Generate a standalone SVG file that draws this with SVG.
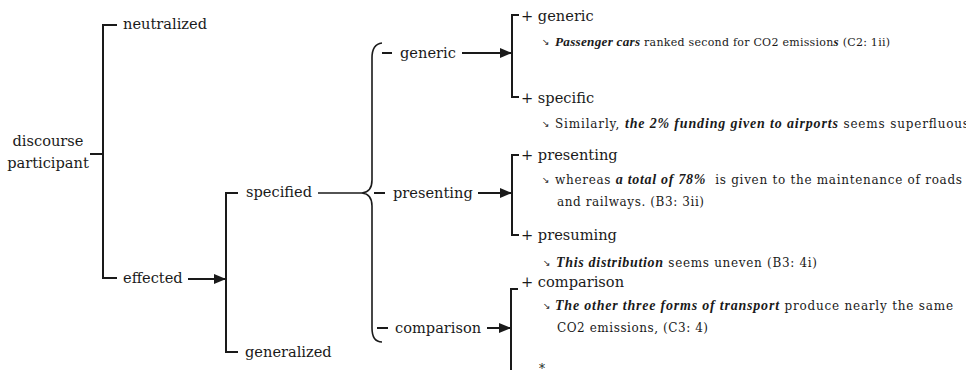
<svg xmlns="http://www.w3.org/2000/svg" width="966" height="370" viewBox="0 0 966 370">
<style>
.lbl{font-family:"DejaVu Serif","Liberation Serif",serif;font-size:14.6px;fill:#1a1a1a}
.ex{font-family:"DejaVu Serif","Liberation Serif",serif;font-size:12px;fill:#1a1a1a}
.bi{font-family:"Liberation Serif",serif;font-size:14px;font-weight:bold;font-style:italic}
.sa{font-family:"DejaVu Sans",sans-serif;font-size:9px;fill:#1a1a1a}
.ln{stroke:#1a1a1a;stroke-width:2;fill:none}
.thin{stroke:#1a1a1a;stroke-width:1.6;fill:none}
</style>
<defs>
<marker id="ah" viewBox="0 0 12 10" refX="12" refY="5" markerWidth="12" markerHeight="10" markerUnits="userSpaceOnUse" orient="auto">
<path d="M0,0 L12,5 L0,10 z" fill="#1a1a1a"/>
</marker>
</defs>
<rect width="966" height="370" fill="#fff"/>

<g id="connectors">
<path class="ln" d="M90,154 H103 M117,25 H103 V278 H117"/>
<line class="ln" x1="188" y1="279" x2="226" y2="279" marker-end="url(#ah)"/>
<path class="ln" d="M238,193 H226 V352 H238"/>
<path class="thin" d="M318,193 H362"/>
<path class="thin" d="M382,43 Q372,44 372,58 L372,180 Q372,192 362,193 Q372,194 372,206 L372,328 Q372,342 382,342"/>
<path class="ln" d="M382,53 H392 M374,193 H385 M377,328 H388"/>
<line class="ln" x1="462" y1="53" x2="512" y2="53" marker-end="url(#ah)"/>
<line class="ln" x1="478" y1="193" x2="512" y2="193" marker-end="url(#ah)"/>
<line class="ln" x1="487" y1="328" x2="511" y2="328" marker-end="url(#ah)"/>
<path class="ln" d="M519,15 H512 V97 H519"/>
<path class="ln" d="M519,155 H512 V235 H519"/>
<path class="ln" d="M518,289 H511 V372"/>
</g>

<g id="n-discourse-participant">
<text class="lbl" x="48" y="146" text-anchor="middle">discourse</text>
<text class="lbl" x="48" y="168" text-anchor="middle">participant</text>
</g>
<g id="n-neutralized"><text class="lbl" x="123" y="29">neutralized</text></g>
<g id="n-effected"><text class="lbl" x="123" y="283">effected</text></g>
<g id="n-specified"><text class="lbl" x="246" y="197">specified</text></g>
<g id="n-generalized"><text class="lbl" x="245" y="357">generalized</text></g>
<g id="n-generic"><text class="lbl" x="400" y="58">generic</text></g>
<g id="n-presenting"><text class="lbl" x="393" y="198">presenting</text></g>
<g id="n-comparison"><text class="lbl" x="395" y="333">comparison</text></g>

<g id="n-plus-generic">
<text class="lbl" x="521" y="21">+ generic</text>
<text class="sa" x="542" y="45">↘</text>
<text class="ex" x="555" y="46" textLength="335" style="font-size:11px"><tspan class="bi" style="font-size:13.2px">Passenger cars</tspan> ranked second for CO2 emission<tspan class="bi" style="font-size:13.2px">s</tspan> (C2: 1ii)</text>
</g>
<g id="n-plus-specific">
<text class="lbl" x="521" y="103">+ specific</text>
<text class="sa" x="542" y="127">↘</text>
<text class="ex" x="555" y="128" textLength="414">Similarly, <tspan class="bi">the 2% funding given to airports</tspan> seems superfluous</text>
</g>
<g id="n-plus-presenting">
<text class="lbl" x="521" y="160">+ presenting</text>
<text class="sa" x="542" y="183">↘</text>
<text class="ex" x="555" y="184" textLength="407" xml:space="preserve">whereas <tspan class="bi">a total of 78%</tspan>  is given to the maintenance of roads</text>
<text class="ex" x="557" y="206" textLength="147">and railways. (B3: 3ii)</text>
</g>
<g id="n-plus-presuming">
<text class="lbl" x="521" y="240">+ presuming</text>
<text class="sa" x="543" y="266">↘</text>
<text class="ex" x="556" y="267" textLength="261"><tspan class="bi">This distribution</tspan> seems uneven (B3: 4i)</text>
</g>
<g id="n-plus-comparison">
<text class="lbl" x="521" y="287">+ comparison</text>
<text class="sa" x="543" y="309">↘</text>
<text class="ex" x="555" y="310" textLength="398"><tspan class="bi">The other three forms of transport</tspan> produce nearly the same</text>
<text class="ex" x="557" y="332" textLength="151">CO2 emissions, (C3: 4)</text>
</g>
<g id="n-star"><text class="ex" x="539" y="373">*</text></g>
</svg>
